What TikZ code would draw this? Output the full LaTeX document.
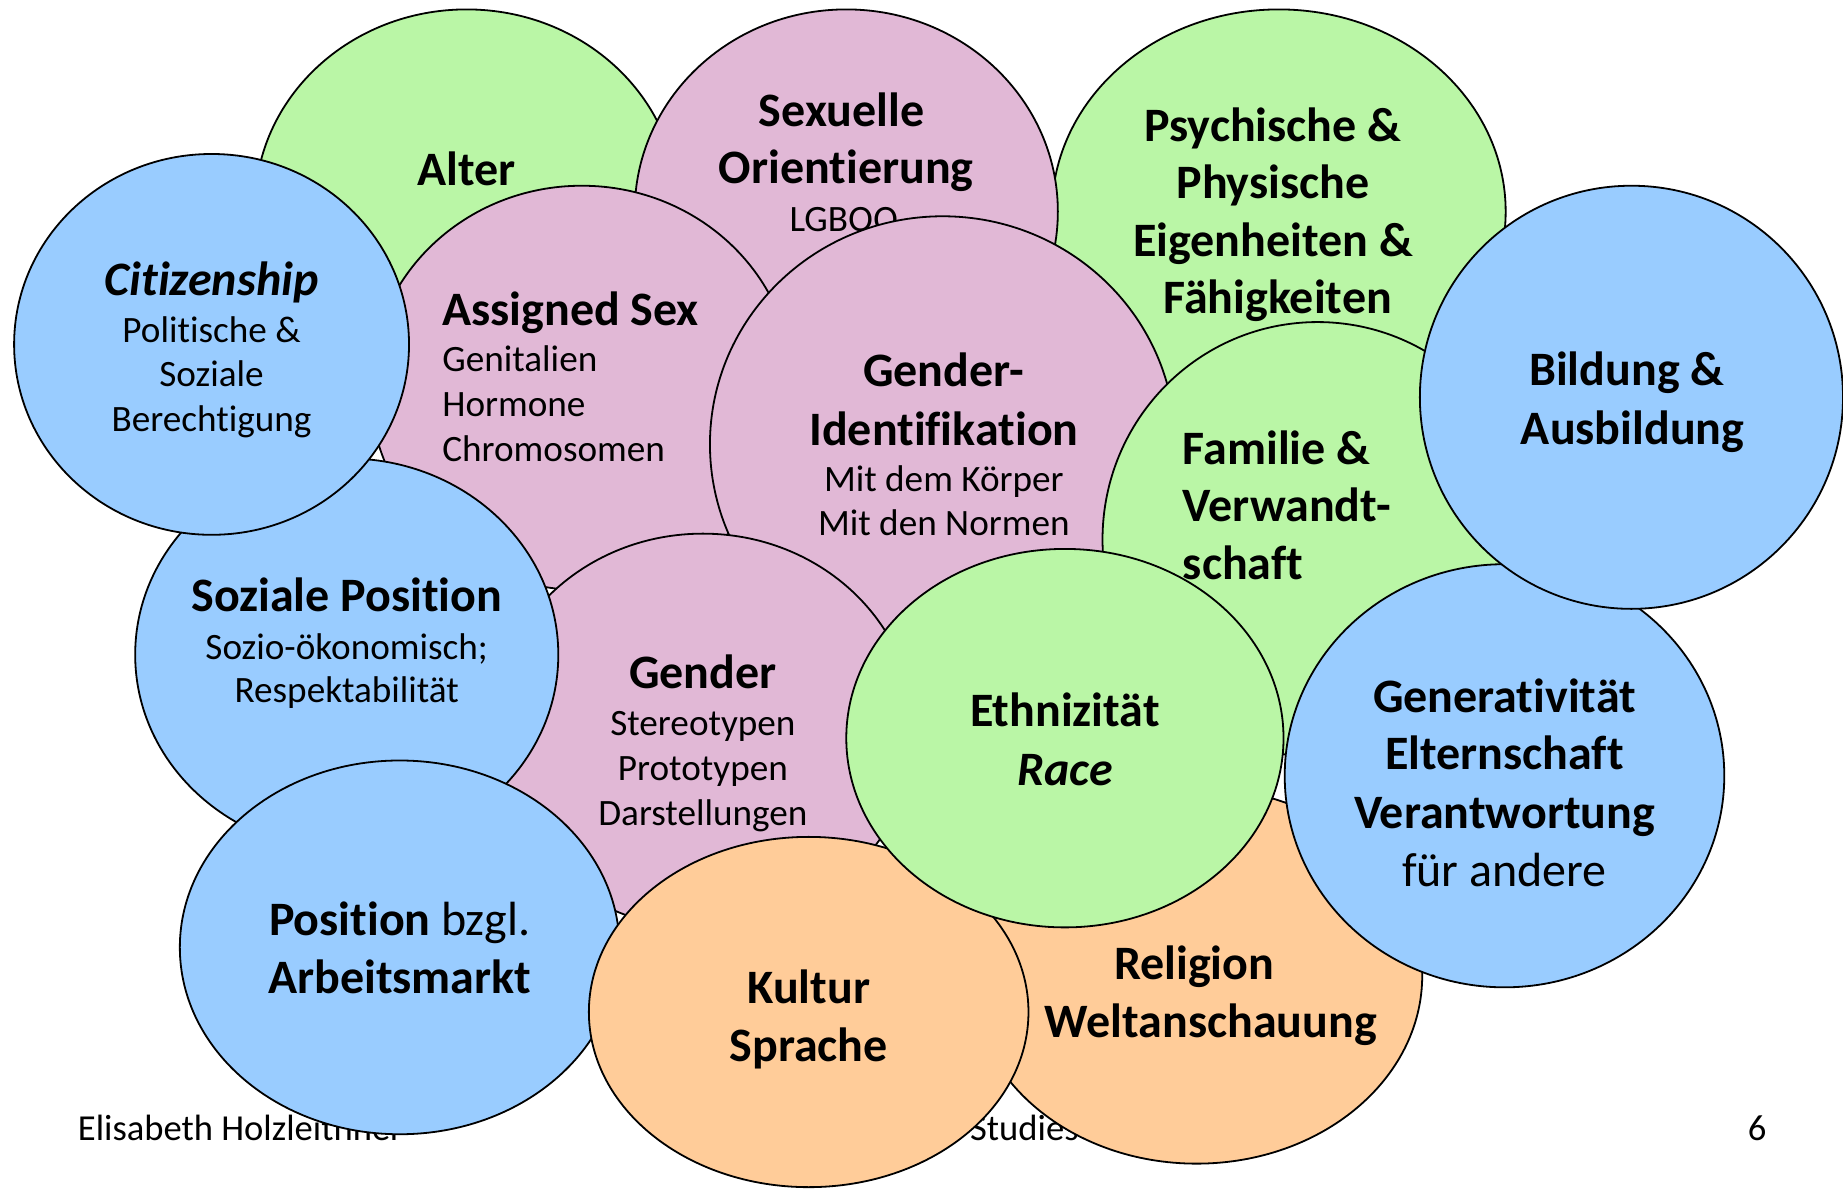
\documentclass[tikz,border=0pt]{standalone}
\usepackage{fontspec}
\setmainfont{Carlito}[Ligatures=NoCommon]
\usetikzlibrary{shapes.geometric}
\definecolor{leaf}{RGB}{186,246,166}
\definecolor{rose}{RGB}{225,184,214}
\definecolor{sky}{RGB}{153,204,255}
\definecolor{apricot}{RGB}{255,204,153}
\begin{document}
\begin{tikzpicture}[x=0.5877pt,y=-0.5877pt,
  blob/.style n args={3}{ellipse, draw=black, line width=0.9pt, fill=#1,
    inner sep=0pt, minimum width={#2*1.1754pt}, minimum height={#3*1.1754pt}},
  ttl/.style={font=\bfseries\fontsize{24}{28}\selectfont, anchor=base, inner sep=0pt},
  big/.style={font=\fontsize{24}{28}\selectfont, anchor=base, inner sep=0pt},
  sub/.style={font=\fontsize{18.6}{22}\selectfont, anchor=base, inner sep=0pt},
  foot/.style={font=\fontsize{18.3}{21}\selectfont, anchor=base, inner sep=0pt}]
\useasboundingbox (0,0) rectangle (1568,1012);

% footer line, lying underneath the ellipses
\node[foot, anchor=base west] (author) at (66,970) {Elisabeth Holzleithner};
\node[foot, anchor=base east] (course) at (918,970) {Studies};
\node[foot] (page) at (1495,970) {6};

% top row
\node[blob={leaf}{180}{168}] (alter) at (397,176) {};
\node[ttl] (alter-a) at (397,158) {Alter};

\node[blob={leaf}{193}{172}] (psych) at (1088,180) {};
\node[ttl] (psych-a) at (1083,120) {Psychische \&};
\node[ttl] (psych-b) at (1083,169) {Physische};
\node[ttl] (psych-c) at (1083,218) {Eigenheiten \&};
\node[ttl] (psych-d) at (1087,267) {Fähigkeiten};

\node[blob={rose}{180}{172}] (sexor) at (720,180) {};
\node[ttl] (sexor-a) at (716,108) {Sexuelle};
\node[ttl] (sexor-b) at (720,156) {Orientierung};
\node[sub] (sexor-c) at (718,197) {LGBQQ};

\node[blob={rose}{180}{172}] (sex) at (495,330) {};
\node[ttl, anchor=base west] (sex-a) at (376,277) {Assigned Sex};
\node[sub, anchor=base west] (sex-b) at (376,316) {Genitalien};
\node[sub, anchor=base west] (sex-c) at (376,354) {Hormone};
\node[sub, anchor=base west] (sex-d) at (376,393) {Chromosomen};

\node[blob={rose}{198}{194}] (gid) at (802,378) {};
\node[ttl] (gid-a) at (803,329) {Gender-};
\node[ttl] (gid-b) at (803,379) {Identifikation};
\node[sub] (gid-c) at (803,418) {Mit dem Körper};
\node[sub] (gid-d) at (803,456) {Mit den Normen};

\node[blob={leaf}{183}{185}] (fam) at (1121,459) {};
\node[ttl, anchor=base west] (fam-a) at (1006,395) {Familie \&};
\node[ttl, anchor=base west] (fam-b) at (1006,444) {Verwandt-};
\node[ttl, anchor=base west] (fam-c) at (1006,493) {schaft};

\node[blob={apricot}{192}{160}] (rel) at (1018,830) {};
\node[ttl] (rel-a) at (1016,833) {Religion};
\node[ttl] (rel-b) at (1030,883) {Weltanschauung};

\node[blob={rose}{180}{168}] (gender) at (598,622) {};
\node[ttl] (gender-a) at (598,586) {Gender};
\node[sub] (gender-b) at (598,626) {Stereotypen};
\node[sub] (gender-c) at (598,664) {Prototypen};
\node[sub] (gender-d) at (598,702) {Darstellungen};

\node[blob={sky}{180}{167}] (soz) at (295,557) {};
\node[ttl] (soz-a) at (295,520) {Soziale Position};
\node[sub] (soz-b) at (295,561) {Sozio-ökonomisch;};
\node[sub] (soz-c) at (295,598) {Respektabilität};

\node[blob={sky}{168}{162}] (citi) at (180,293) {};
\node[ttl] (citi-a) at (180,251) {\itshape Citizenship};
\node[sub] (citi-b) at (180,291) {Politische \&};
\node[sub] (citi-c) at (180,329) {Soziale};
\node[sub] (citi-d) at (180,367) {Berechtigung};

\node[blob={sky}{187}{159}] (arb) at (340,806) {};
\node[big] (arb-a) at (340,796) {\textbf{Position} bzgl.};
\node[ttl] (arb-b) at (340,845) {Arbeitsmarkt};

\node[blob={apricot}{187}{149}] (kult) at (688,861) {};
\node[ttl] (kult-a) at (688,854) {Kultur};
\node[ttl] (kult-b) at (688,903) {Sprache};

\node[blob={leaf}{186}{161}] (eth) at (906,628) {};
\node[ttl] (eth-a) at (906,618) {Ethnizität};
\node[ttl] (eth-b) at (906,668) {\itshape Race};

\node[blob={sky}{187}{180}] (gen) at (1280,660) {};
\node[ttl] (gen-a) at (1280,606) {Generativität};
\node[ttl] (gen-b) at (1280,655) {Elternschaft};
\node[ttl] (gen-c) at (1280,705) {Verantwortung};
\node[big] (gen-d) at (1280,754) {für andere};

\node[blob={sky}{180}{180}] (bild) at (1388,338) {};
\node[ttl] (bild-a) at (1384,328) {Bildung \&};
\node[ttl] (bild-b) at (1389,378) {Ausbildung};
\end{tikzpicture}
\end{document}
